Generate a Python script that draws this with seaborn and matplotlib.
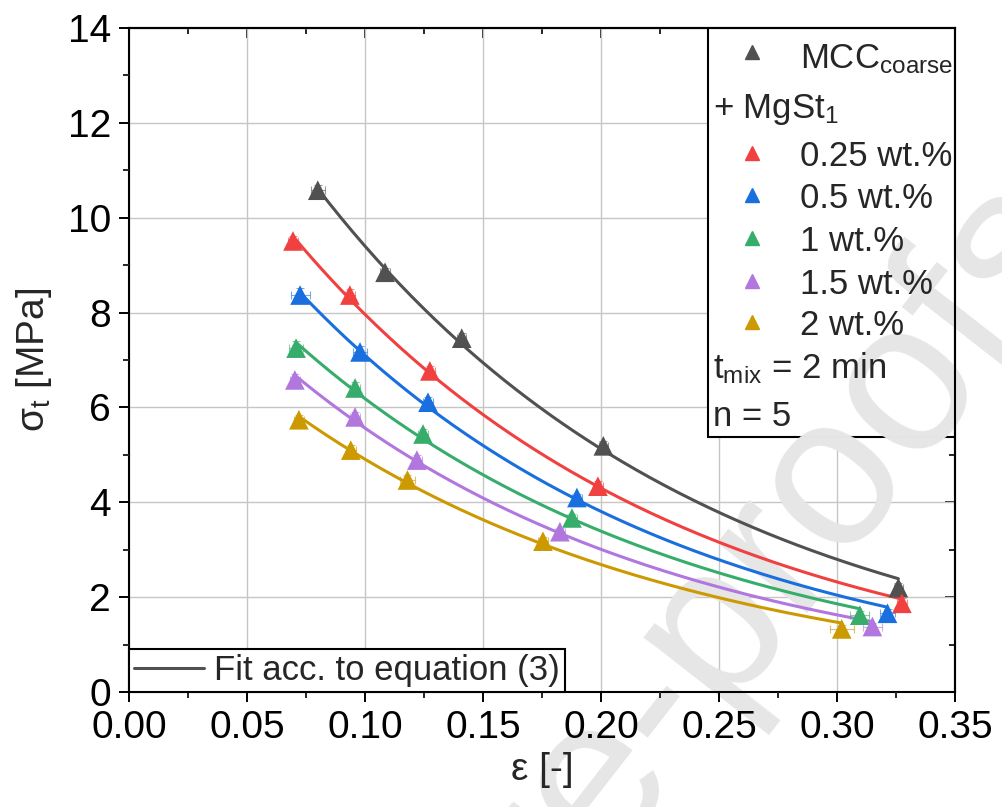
import numpy as np
import pandas as pd
import matplotlib
matplotlib.use("Agg")
import matplotlib.pyplot as plt
from matplotlib.lines import Line2D
from matplotlib.patches import Rectangle
from matplotlib.ticker import MultipleLocator, FormatStrFormatter
import seaborn as sns

# ---- data: porosity (eps) and tensile strength (sigma_t, MPa) ----
series_names = ["MCC coarse", "0.25 wt.%", "0.5 wt.%", "1 wt.%", "1.5 wt.%", "2 wt.%"]
series_colors = ["#515151", "#F14040", "#1A6FDF", "#37AD6B", "#B177DE", "#CC9900"]

eps_mcc = [0.080, 0.1085, 0.141, 0.201, 0.326]
sig_mcc = [10.58, 8.85, 7.46, 5.19, 2.20]
eps_025 = [0.0695, 0.0936, 0.1275, 0.1987, 0.3275]
sig_025 = [9.51, 8.37, 6.77, 4.34, 1.87]
eps_05 = [0.0725, 0.0979, 0.1267, 0.1898, 0.3214]
sig_05 = [8.37, 7.17, 6.11, 4.10, 1.66]
eps_1 = [0.0708, 0.0958, 0.1246, 0.1877, 0.3097]
sig_1 = [7.25, 6.41, 5.44, 3.67, 1.62]
eps_15 = [0.0703, 0.0958, 0.1220, 0.1826, 0.3150]
sig_15 = [6.58, 5.80, 4.89, 3.38, 1.38]
eps_2 = [0.0720, 0.0940, 0.1180, 0.1754, 0.3020]
sig_2 = [5.74, 5.10, 4.47, 3.18, 1.33]

# standard deviations (n = 5)
xerr_all = [
    [0.003, 0.002, 0.002, 0.002, 0.002],
    [0.002, 0.002, 0.002, 0.002, 0.002],
    [0.004, 0.003, 0.002, 0.002, 0.003],
    [0.003, 0.002, 0.002, 0.002, 0.004],
    [0.002, 0.002, 0.002, 0.002, 0.004],
    [0.002, 0.002, 0.003, 0.002, 0.005],
]
yerr_all = [
    [0.10, 0.10, 0.10, 0.10, 0.10],
    [0.10, 0.12, 0.10, 0.10, 0.12],
    [0.15, 0.12, 0.10, 0.08, 0.08],
    [0.15, 0.12, 0.10, 0.08, 0.08],
    [0.12, 0.10, 0.10, 0.08, 0.08],
    [0.10, 0.10, 0.10, 0.08, 0.08],
]

eps_all = [eps_mcc, eps_025, eps_05, eps_1, eps_15, eps_2]
sig_all = [sig_mcc, sig_025, sig_05, sig_1, sig_15, sig_2]

x_ticks = [0.00, 0.05, 0.10, 0.15, 0.20, 0.25, 0.30, 0.35]
y_ticks = [0, 2, 4, 6, 8, 10, 12, 14]

# ---- tidy tables ----
rows = []
for name, e, s in zip(series_names, eps_all, sig_all):
    for ei, si in zip(e, s):
        rows.append({"series": name, "eps": ei, "sigma": si})
df = pd.DataFrame(rows)

# exponential fit sigma = sigma0 * exp(-b * eps) for every series
fit_rows = []
for name, e, s in zip(series_names, eps_all, sig_all):
    e = np.asarray(e)
    s = np.asarray(s)
    slope, intercept = np.polyfit(e, np.log(s), 1, w=s)
    xs = np.linspace(e.min(), e.max(), 200)
    for xi in xs:
        fit_rows.append({"series": name, "eps": xi, "sigma": np.exp(intercept + slope * xi)})
fit_df = pd.DataFrame(fit_rows)

palette = dict(zip(series_names, series_colors))

# ---- style ----
sns.set_theme(style="ticks")
plt.rcParams["font.family"] = ["Liberation Sans", "DejaVu Sans"]
plt.rcParams["mathtext.fontset"] = "custom"
plt.rcParams["mathtext.rm"] = "Liberation Sans"
plt.rcParams["mathtext.it"] = "Liberation Sans"
plt.rcParams["mathtext.default"] = "regular"

TICK_FS = 28
LEG_FS = 25

fig = plt.figure(figsize=(10.02, 8.07), dpi=100)
fig.patch.set_facecolor("white")
ax = fig.add_axes([0.1287, 0.1425, 0.8244, 0.8228])

# grid lines at the major ticks (kept under everything else)
for v in x_ticks:
    ax.axvline(v, color="#c6c6c6", linewidth=1.0, zorder=0.5)
for v in y_ticks:
    ax.axhline(v, color="#c6c6c6", linewidth=1.0, zorder=0.5)

# fitted curves
sns.lineplot(data=fit_df, x="eps", y="sigma", hue="series", palette=palette,
             estimator=None, sort=False, legend=False, linewidth=2.2, ax=ax, zorder=2)

# error bars
for name, e, s, xe, ye in zip(series_names, eps_all, sig_all, xerr_all, yerr_all):
    ax.errorbar(e, s, xerr=xe, yerr=ye, fmt="none", ecolor=palette[name],
                elinewidth=0.8, capsize=3, capthick=0.8, alpha=0.6, zorder=2.5)

# measured points
sns.scatterplot(data=df, x="eps", y="sigma", hue="series", palette=palette,
                marker="^", s=200, linewidth=0, legend=False, ax=ax, zorder=3)

# ---- axes ----
ax.set_xlim(0, 0.35)
ax.set_ylim(0, 14)
ax.set_xticks(x_ticks)
ax.set_yticks(y_ticks)
ax.xaxis.set_major_formatter(FormatStrFormatter("%.2f"))
ax.xaxis.set_minor_locator(MultipleLocator(0.025))
ax.yaxis.set_minor_locator(MultipleLocator(1))
ax.tick_params(which="major", direction="out", length=7, width=1.4,
               labelsize=TICK_FS, colors="black", pad=6)
ax.tick_params(which="minor", direction="out", length=4, width=1.4)
ax.grid(False)
for sp in ax.spines.values():
    sp.set_visible(True)
    sp.set_linewidth(1.5)
    sp.set_color("black")
    sp.set_zorder(4)
ax.xaxis.set_zorder(4)
ax.yaxis.set_zorder(4)

ax.set_xlabel("ε [-]", fontsize=TICK_FS, labelpad=4)
ax.set_ylabel(r"$\sigma_t$ [MPa]", fontsize=TICK_FS, labelpad=10)

# inward ticks on the top and right frame
top = ax.secondary_xaxis("top")
top.set_xticks(x_ticks)
top.xaxis.set_minor_locator(MultipleLocator(0.025))
top.tick_params(which="major", direction="in", length=7, width=1.4, labeltop=False)
top.tick_params(which="minor", direction="in", length=4, width=1.4)
top.spines["top"].set_linewidth(1.5)
right = ax.secondary_yaxis("right")
right.set_yticks(y_ticks)
right.yaxis.set_minor_locator(MultipleLocator(1))
right.tick_params(which="major", direction="in", length=7, width=1.4, labelright=False)
right.tick_params(which="minor", direction="in", length=4, width=1.4)
right.spines["right"].set_linewidth(1.5)

# ---- key box (upper right) ----
box = Rectangle((0.701, 0.384), 0.299, 0.616, transform=ax.transAxes,
                facecolor="white", edgecolor="black", linewidth=1.5, zorder=1.1)
ax.add_patch(box)

mk_x, lab_x, head_x = 0.754, 0.812, 0.707
key_rows = [
    (0.964, 0.940, series_colors[0], r"MCC$_{coarse}$"),
    (0.812, 0.792, series_colors[1], "0.25 wt.%"),
    (0.748, 0.729, series_colors[2], "0.5 wt.%"),
    (0.684, 0.664, series_colors[3], "1 wt.%"),
    (0.619, 0.599, series_colors[4], "1.5 wt.%"),
    (0.557, 0.538, series_colors[5], "2 wt.%"),
]
for my, ty, col, lab in key_rows:
    ax.plot([mk_x], [my], marker="^", markersize=10, color=col, linestyle="none",
            transform=ax.transAxes, zorder=4, clip_on=False)
    ax.text(lab_x, ty, lab, transform=ax.transAxes, fontsize=LEG_FS,
            va="baseline", ha="left", zorder=4)
ax.text(head_x, 0.864, r"+ MgSt$_1$", transform=ax.transAxes, fontsize=LEG_FS,
        va="baseline", ha="left", zorder=4)
ax.text(head_x, 0.473, r"t$_{mix}$ = 2 min", transform=ax.transAxes, fontsize=LEG_FS,
        va="baseline", ha="left", zorder=4)
ax.text(head_x, 0.401, "n = 5", transform=ax.transAxes, fontsize=LEG_FS,
        va="baseline", ha="left", zorder=4)

# ---- fit legend (lower left) ----
fit_handle = Line2D([], [], color=series_colors[0], linewidth=2.2)
leg = ax.legend([fit_handle], ["Fit acc. to equation (3)"], loc="lower left",
                borderaxespad=0, fancybox=False, framealpha=1, edgecolor="black",
                fontsize=LEG_FS, handlelength=2.0, handletextpad=0.3,
                borderpad=0.15)
leg.get_frame().set_linewidth(1.5)
leg.set_zorder(5)

# ---- watermark ----
ax.text(1.091, 0.694, "Journal Pre-proofs", transform=fig.transFigure,
        rotation=52, rotation_mode="anchor", ha="right", va="baseline",
        fontsize=155, color="#e6e6e6", zorder=1.2, clip_on=False)

fig.savefig("out.png", dpi=100)
